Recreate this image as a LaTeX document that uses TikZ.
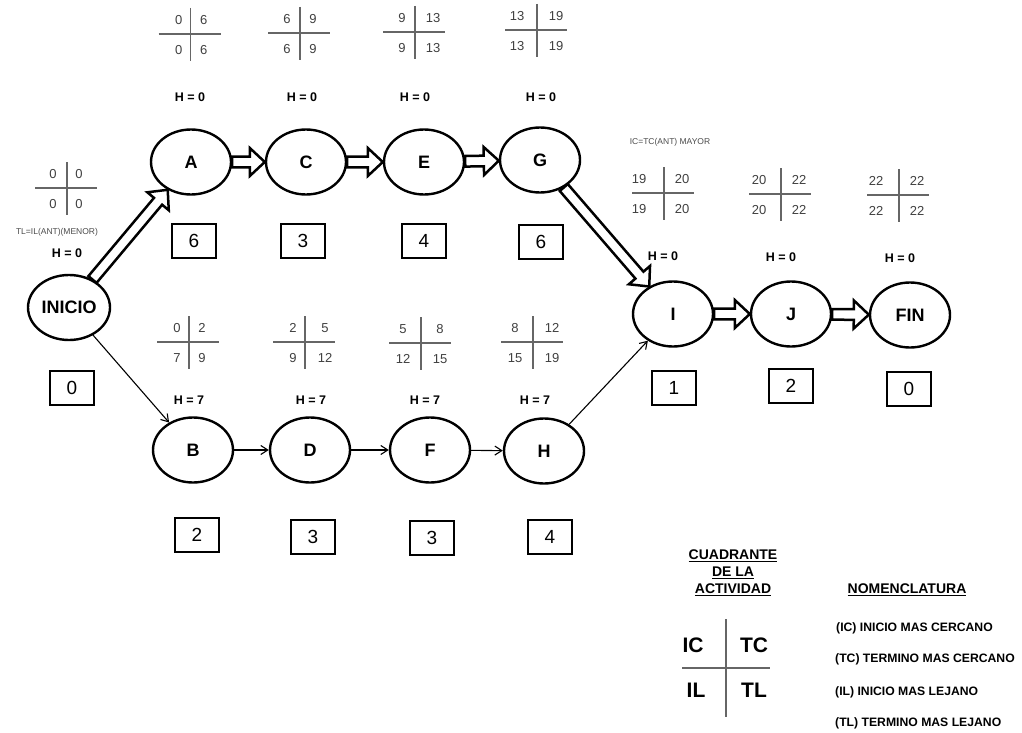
\documentclass[tikz,border=0pt]{standalone}
\usepackage{fontspec}
\setmainfont{Liberation Sans}
\usetikzlibrary{shapes.geometric,calc,arrows.meta}

% hollow block arrow between two nodes
\newcommand\fatarrow[2]{%
  \path (#1) -- (#2) coordinate[pos=0] (fs) coordinate[pos=1] (fe);
  \coordinate (fb) at ($(fe)!15pt!(fs)$);
  \draw[fatarr] ($(fs)!5.3pt!90:(fe)$) -- ($(fb)!5.3pt!90:(fe)$)
     -- ($(fb)!14pt!90:(fe)$) -- (fe) -- ($(fb)!14pt!-90:(fe)$)
     -- ($(fb)!5.3pt!-90:(fe)$) -- ($(fs)!5.3pt!-90:(fe)$) -- cycle;
}

% activity quadrant: id, centre x, centre y, left offset, right offset, four values
\newcommand\actquad[9]{%
  \draw[qline] (#2,#3-26) -- (#2,#3+27);
  \draw[qline] (#2-32,#3) -- (#2+30,#3);
  \node[qnum] (#1-tl) at (#2-#4,#3-14) {#6};
  \node[qnum] (#1-tr) at (#2+#5,#3-14) {#7};
  \node[qnum] (#1-bl) at (#2-#4,#3+16) {#8};
  \node[qnum] (#1-br) at (#2+#5,#3+16) {#9};
}

\begin{document}
\begin{tikzpicture}[x=1pt,y=-1pt,
  act/.style={ellipse,draw,line width=2.4pt,inner sep=0pt,minimum width=80pt,
    minimum height=65pt,font=\fontsize{18}{21}\selectfont\bfseries},
  dur/.style={draw,line width=2.4pt,inner sep=0pt,minimum width=44pt,
    minimum height=34pt,font=\fontsize{19}{22}\selectfont},
  hlab/.style={font=\fontsize{12.5}{15}\selectfont\bfseries},
  qnum/.style={font=\fontsize{13}{15}\selectfont,text=black!75,inner sep=0pt},
  qline/.style={draw=black!60,line width=1.4pt},
  note/.style={font=\fontsize{8.5}{10}\selectfont,text=black!70},
  lightarrow/.style={line width=1.1pt,-{Straight Barb[length=7pt,width=9pt]}},
  fatarr/.style={line width=2.5pt,fill=white,line join=miter},
  legtitle/.style={font=\fontsize{14}{17}\selectfont\bfseries,align=center},
  legbig/.style={font=\fontsize{21}{24}\selectfont\bfseries},
  legitem/.style={font=\fontsize{12.2}{14}\selectfont\bfseries,anchor=west,inner sep=0pt}
]
\fill[white] (0,0) rectangle (1022,733);
\useasboundingbox (0,0) rectangle (1022,733);

% activities
\node[act,minimum width=82pt] (inicio) at (69,307.5) {INICIO};
\node[act] (a) at (191,162) {A};
\node[act] (c) at (306,162) {C};
\node[act] (e) at (424,162) {E};
\node[act] (g) at (540,160) {G};
\node[act] (b) at (193,450) {B};
\node[act] (d) at (310,450) {D};
\node[act] (f) at (430,450) {F};
\node[act] (h) at (544,451) {H};
\node[act] (i) at (673,314) {I};
\node[act] (j) at (791,314) {J};
\node[act] (fin) at (910,315) {FIN};

% durations
\node[dur] (dini) at (72,388) {0};
\node[dur] (da) at (194,241) {6};
\node[dur] (dc) at (303,241) {3};
\node[dur] (de) at (424,241) {4};
\node[dur] (dg) at (541,242) {6};
\node[dur] (db) at (197,535) {2};
\node[dur] (dd) at (313,537) {3};
\node[dur] (df) at (432,538) {3};
\node[dur] (dh) at (550,537) {4};
\node[dur] (di) at (674,388) {1};
\node[dur] (dj) at (791,386) {2};
\node[dur] (dfin) at (909,389) {0};

% slack labels
\node[hlab] (hini) at (67,253) {H = 0};
\node[hlab] (ha) at (190,97) {H = 0};
\node[hlab] (hc) at (302,97) {H = 0};
\node[hlab] (he) at (415,97) {H = 0};
\node[hlab] (hg) at (541,97) {H = 0};
\node[hlab] (hb) at (189,400) {H = 7};
\node[hlab] (hd) at (311,400) {H = 7};
\node[hlab] (hf) at (425,400) {H = 7};
\node[hlab] (hh) at (535,400) {H = 7};
\node[hlab] (hi) at (663,256) {H = 0};
\node[hlab] (hj) at (781,257) {H = 0};
\node[hlab] (hfin) at (900,258) {H = 0};

% quadrants
\actquad{qini}{67}{188}{14}{12}{0}{0}{0}{0}
\actquad{qa}{190.7}{34}{12}{13}{0}{6}{0}{6}
\actquad{qc}{300}{33}{13}{13}{6}{9}{6}{9}
\actquad{qe}{415}{32}{13}{18}{9}{13}{9}{13}
\actquad{qg}{537}{30}{20}{19}{13}{19}{13}{19}
\actquad{qb}{189}{342}{12}{13}{0}{2}{7}{9}
\actquad{qd}{305}{342}{12}{20}{2}{5}{9}{12}
\actquad{qf}{421}{343}{18}{19}{5}{8}{12}{15}
\actquad{qh}{533}{342}{18}{19}{8}{12}{15}{19}
\actquad{qi}{664}{193}{25}{18}{19}{20}{19}{20}
\actquad{qj}{781}{194}{22}{18}{20}{22}{20}{22}
\actquad{qfin}{899}{195}{23}{18}{22}{22}{22}{22}

% rules
\node[note] (rule1) at (57,232) {TL=IL(ANT)(MENOR)};
\node[note] (rule2) at (670,142) {IC=TC(ANT) MAYOR};

% critical path
\fatarrow{inicio}{a}
\fatarrow{a}{c}
\fatarrow{c}{e}
\fatarrow{e}{g}
\fatarrow{g}{i}
\fatarrow{i}{j}
\fatarrow{j}{fin}

% non-critical path
\draw[lightarrow] (inicio) -- (b);
\draw[lightarrow] (b) -- (d);
\draw[lightarrow] (d) -- (f);
\draw[lightarrow] (f) -- (h);
\draw[lightarrow] (h) -- (i);

% legend
\node[legtitle] (cuad) at (733,573) {\underline{CUADRANTE}\\\underline{DE LA}\\\underline{ACTIVIDAD}};
\node[legtitle] (nomen) at (907,590) {\underline{NOMENCLATURA}};
\draw[qline] (726,619) -- (726,717);
\draw[qline] (682,668) -- (770,668);
\node[legbig] (lic) at (693,645) {IC};
\node[legbig] (ltc) at (754,645) {TC};
\node[legbig] (lil) at (696,690) {IL};
\node[legbig] (ltl) at (754,690) {TL};
\node[legitem] (nic) at (836,628) {(IC) INICIO MAS CERCANO};
\node[legitem] (ntc) at (835,659) {(TC) TERMINO MAS CERCANO};
\node[legitem] (nil) at (835,692) {(IL) INICIO MAS LEJANO};
\node[legitem] (ntl) at (835,723) {(TL) TERMINO MAS LEJANO};
\end{tikzpicture}
\end{document}
